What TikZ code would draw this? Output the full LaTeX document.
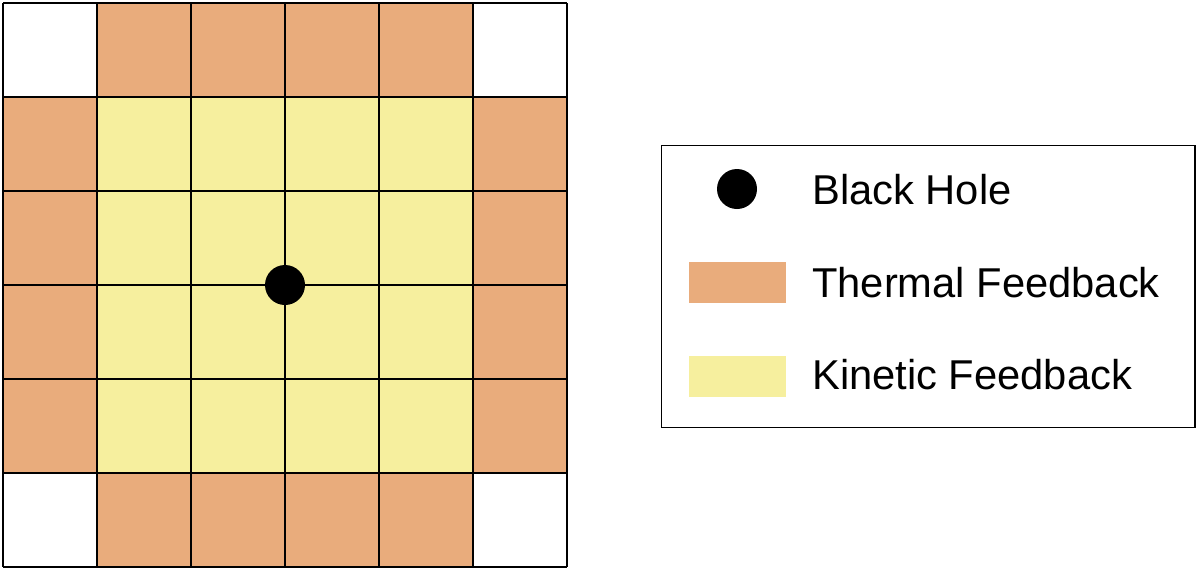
\documentclass[tikz,border=0pt]{standalone}
\usepackage{fontspec}
\setmainfont{Liberation Sans}
\definecolor{thermal}{RGB}{233,172,124}
\definecolor{kinetic}{RGB}{246,239,158}
\begin{document}
\begin{tikzpicture}[x=1pt,y=-1pt,
  cellline/.style={draw=black,line width=1.5pt},
  legtext/.style={anchor=base west,inner sep=0pt,font=\fontsize{41.7}{50}\selectfont},
  bh/.style={circle,fill=black,inner sep=0pt,minimum size=40pt}]
\useasboundingbox (0,0) rectangle (1200,571);
% grid fills
\foreach \i in {0,...,5}{
  \foreach \j in {0,...,5}{
    \pgfmathtruncatemacro{\edgei}{(\i==0 || \i==5) ? 1 : 0}
    \pgfmathtruncatemacro{\edgej}{(\j==0 || \j==5) ? 1 : 0}
    \pgfmathtruncatemacro{\sumedge}{\edgei+\edgej}
    \ifcase\sumedge
      \fill[kinetic] (3+94*\i,3+94*\j) rectangle ++(94,94);
    \or
      \fill[thermal] (3+94*\i,3+94*\j) rectangle ++(94,94);
    \or
      \fill[white] (3+94*\i,3+94*\j) rectangle ++(94,94);
    \fi
  }
}
\foreach \k in {0,...,6}{
  \draw[cellline] (3+94*\k,3) -- (3+94*\k,567);
  \draw[cellline] (3,3+94*\k) -- (567,3+94*\k);
}
\node[bh] (hole) at (285,285) {};
% legend
\draw[line width=1.5pt] (661.5,145.5) rectangle (1195,427.5);
\node[bh] (legbh) at (737,189) {};
\node[legtext] (lbh) at (812,204) {Black Hole};
\fill[thermal] (689,262) rectangle (786,303);
\node[legtext] (lth) at (812,297) {Thermal Feedback};
\fill[kinetic] (689,356) rectangle (786,397);
\node[legtext] (lki) at (812,389) {Kinetic Feedback};
\end{tikzpicture}
\end{document}
